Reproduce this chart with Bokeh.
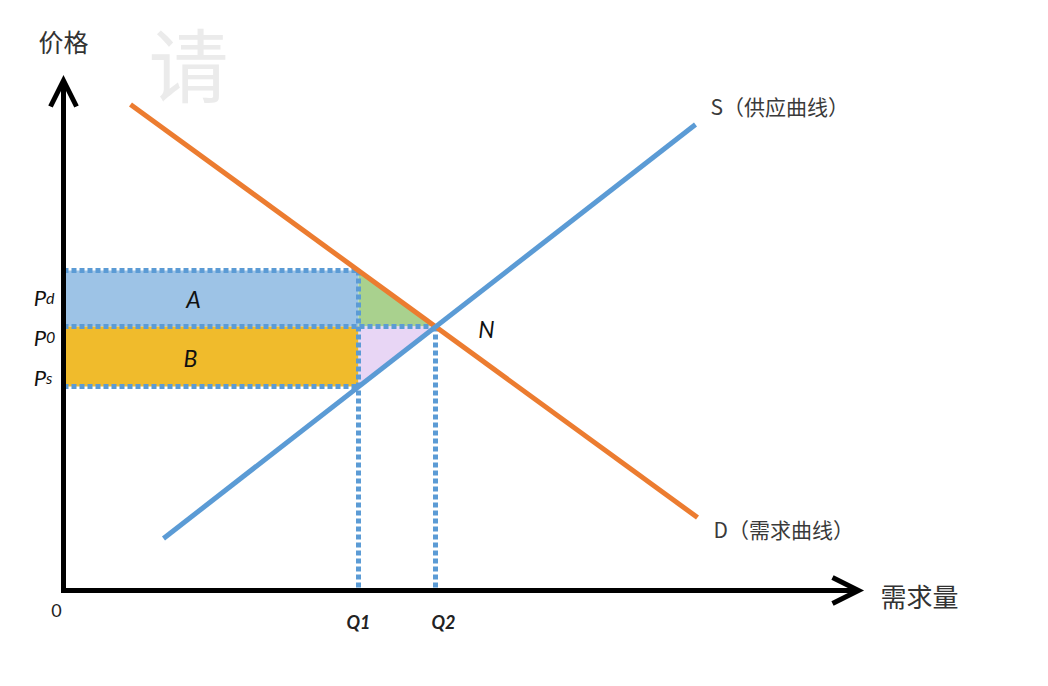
from bokeh.plotting import figure
from bokeh.models import Range1d, Arrow, OpenHead
from bokeh.core.properties import value
from bokeh.embed import file_html
from bokeh.resources import INLINE

# ---- data (quantity / price units) ----
Q1, Q2 = 29.5, 37.2
P_d, P_0, P_s = 32.0, 26.4, 20.4
demand_q = [6.7, 63.4]
demand_p = [48.6, 7.3]
supply_q = [10.0, 63.2]
supply_p = [5.2, 46.6]
x_axis_end = 79.5
y_axis_end = 51.0

price_labels = ["P", "P", "P"]
price_subs = ["d", "0", "s"]
qty_labels = ["Q1", "Q2"]
area_labels = ["A", "B"]
curve_labels = ["S（供应曲线）", "D（需求曲线）"]
axis_titles = ["价格", "需求量"]

BLUE = "#5B9BD5"
ORANGE = "#EC7C30"
CJK = value("Noto Sans CJK SC")
LAT = value("Lato")

p = figure(width=1032, height=670, title=None,
           x_range=Range1d(-6.3, 96.9), y_range=Range1d(-8.0, 59.0),
           x_axis_type=None, y_axis_type=None, min_border=0,
           toolbar_location=None, output_backend="svg")
p.outline_line_color = None
p.background_fill_color = "white"
p.border_fill_color = "white"

# watermark
p.text(x=[12.5], y=[53.0], text=["请"], text_font=CJK, text_font_size="80px",
       text_color="#EBEBEB", text_align="center", text_baseline="middle")

# filled areas
p.quad(left=[0], right=[Q1], bottom=[P_0], top=[P_d], fill_color="#9DC3E6", line_color=None)
p.quad(left=[0], right=[Q1], bottom=[P_s], top=[P_0], fill_color="#F0BB2C", line_color=None)
p.patch([Q1, Q1, Q2], [P_d, P_0, P_0], fill_color="#A9D18E", line_color=None)
p.patch([Q1, Q2, Q1], [P_0, P_0, P_s], fill_color="#E8D6F5", line_color=None)

# dotted guide lines
p.segment(x0=[0, 0, 0, Q1, Q2], y0=[P_d, P_0, P_s, P_d, P_0],
          x1=[Q1, Q2, Q1, Q1, Q2], y1=[P_d, P_0, P_s, 0, 0],
          line_color=BLUE, line_width=5, line_dash="5 3", line_cap="butt")

# curves
p.line(demand_q, demand_p, line_color=ORANGE, line_width=5)
p.line(supply_q, supply_p, line_color=BLUE, line_width=5)

# axes
p.line([0, 0, x_axis_end], [y_axis_end, 0, 0], line_color="black", line_width=5,
       line_join="miter")
p.add_layout(Arrow(end=OpenHead(size=26, line_width=5, line_color="black", line_join="miter"),
                   x_start=0, y_start=y_axis_end - 2, x_end=0, y_end=y_axis_end,
                   line_width=5, line_color="black"))
p.add_layout(Arrow(end=OpenHead(size=26, line_width=5, line_color="black", line_join="miter"),
                   x_start=x_axis_end - 2, y_start=0, x_end=x_axis_end, y_end=0,
                   line_width=5, line_color="black"))

# axis titles
p.text(x=[0], y=[y_axis_end + 4.0], text=[axis_titles[0]], text_font=CJK,
       text_font_size="25px", text_color="#333333", text_align="center", text_baseline="middle")
p.text(x=[x_axis_end + 2.2], y=[-0.5], text=[axis_titles[1]], text_font=CJK,
       text_font_size="26px", text_color="#333333", text_align="left", text_baseline="middle")
p.text(x=[-0.7], y=[-2.0], text=["0"], text_font=LAT, text_font_size="18px",
       text_color="#222222", text_align="center", text_baseline="middle")

# curve labels
p.text(x=[supply_q[1] + 1.5, demand_q[1] + 1.6], y=[supply_p[1] + 1.9, demand_p[1] - 1.1],
       text=curve_labels, text_font=CJK, text_font_size="21px", text_color="#3A3A3A",
       text_align="left", text_baseline="middle")

# price labels
py = [P_d - 2.7, P_0 - 1.1, P_s + 0.9]
p.text(x=[-1.75] * 3, y=py, text=price_labels, text_font=LAT, text_font_style="italic",
       text_font_size="22px", text_color="#111111", text_align="right",
       text_baseline="alphabetic")
p.text(x=[-1.75] * 3, y=py, text=price_subs, text_font=LAT, text_font_style="italic",
       text_font_size="16px", text_color="#111111", text_align="left",
       text_baseline="alphabetic")

# quantity labels
p.text(x=[Q1, Q2 + 0.8], y=[-3.1, -3.1], text=qty_labels, text_font=LAT,
       text_font_style="bold italic", text_font_size="18px", text_color="#222222",
       text_align="center", text_baseline="middle")

# area labels and N
p.text(x=[13.0, 12.7], y=[(P_d + P_0) / 2, (P_0 + P_s) / 2 - 0.1], text=area_labels,
       text_font=LAT, text_font_style="italic", text_font_size="23px",
       text_color="#111111", text_align="center", text_baseline="middle")
p.text(x=[Q2 + 5.1], y=[P_0 - 0.2], text=["N"], text_font=LAT, text_font_style="italic",
       text_font_size="23px", text_color="#111111", text_align="center",
       text_baseline="middle")

open("out.html", "w").write(file_html(p, INLINE))
